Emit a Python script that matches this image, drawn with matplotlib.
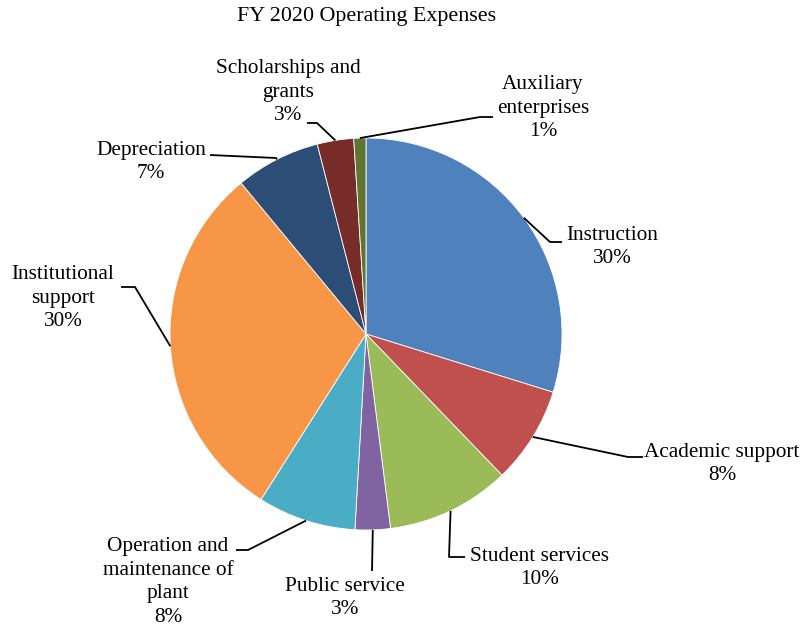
import numpy as np
import matplotlib
matplotlib.use("Agg")
import matplotlib.pyplot as plt

plt.rcParams['font.family'] = ['Liberation Serif', 'DejaVu Serif']

# Data
categories = ['Instruction', 'Academic support', 'Student services', 'Public service',
              'Operation and\nmaintenance of\nplant', 'Institutional\nsupport',
              'Depreciation', 'Scholarships and\ngrants', 'Auxiliary\nenterprises']
shares = [29.8, 8.0, 10.2, 2.9, 8.1, 30.0, 7.0, 3.0, 1.0]
pct_labels = ['30%', '8%', '10%', '3%', '8%', '30%', '7%', '3%', '1%']
colors = ['#4F81BD', '#C0504D', '#9BBB59', '#8064A2', '#4BACC6',
          '#F79646', '#2C4D75', '#772C2A', '#5F7530']

W, H = 807, 630
fig = plt.figure(figsize=(W / 100, H / 100), dpi=100)
ax = fig.add_axes([0, 0, 1, 1])

cx, cy, r = 366, H - 334, 196
wedges, _ = ax.pie(shares, colors=colors, startangle=90, counterclock=False,
                   center=(cx, cy), radius=r, frame=True,
                   wedgeprops=dict(edgecolor='white', linewidth=0.6))
ax.set_xlim(0, W)
ax.set_ylim(0, H)
ax.set_aspect('equal')
ax.axis('off')

# label layout (pixel coords, y from top): text centre, elbow, line end
layout = [
    ((612, 247), (550, 242), (562, 242)),
    ((722, 464), (628, 457), (643, 457)),
    ((540, 568), (449, 557), (465, 557)),
    ((345, 598), (372, 571), (372, 571)),
    ((168, 582), (248, 550), (236, 550)),
    ((63, 298), (135, 287), (121, 287)),
    ((151, 162), (276, 158), (210, 155)),
    ((288, 92), (317, 123), (307, 123)),
    ((543, 108), (480, 117), (493, 117)),
]

for w, name, pct, (txt, elbow, end) in zip(wedges, categories, pct_labels, layout):
    mid = np.deg2rad((w.theta1 + w.theta2) / 2)
    ax0 = cx + r * np.cos(mid)
    ay0 = cy + r * np.sin(mid)
    ax.plot([ax0, elbow[0], end[0]], [ay0, H - elbow[1], H - end[1]],
            color='black', linewidth=1.3, solid_capstyle='butt')
    ax.text(txt[0], H - txt[1], name + '\n' + pct, ha='center', va='center',
            multialignment='center', fontsize=15.3, linespacing=1.34, color='black')

ax.text(367, H - 17, 'FY 2020 Operating Expenses', ha='center', va='center',
        fontsize=15.8, color='black')

fig.savefig('out.png', dpi=100)
